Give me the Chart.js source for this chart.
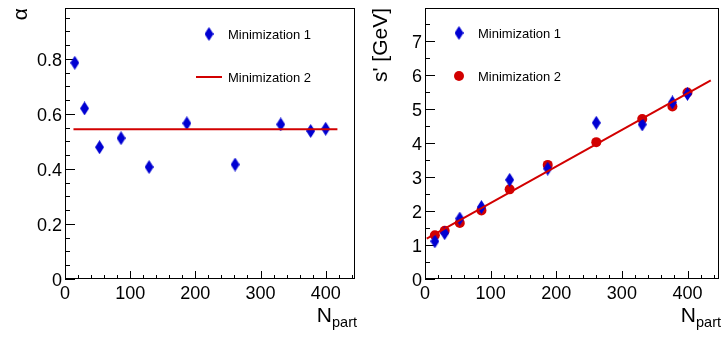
<!DOCTYPE html>
<html>
<head>
<meta charset="utf-8">
<script src="https://cdn.jsdelivr.net/npm/chart.js@4.4.1/dist/chart.umd.min.js"></script>
<style>
  body { margin: 0; background: #fff; }
  #wrap { position: relative; width: 727px; height: 340px; }
  #alphaChart { position: absolute; left: 0; top: 0; }
  #sChart { position: absolute; left: 363px; top: 0; }
</style>
</head>
<body>
<div id="wrap">
  <canvas id="alphaChart" width="363" height="340"></canvas>
  <canvas id="sChart" width="364" height="340"></canvas>
</div>
<script>
const FONT = '"Liberation Sans", Arial, Helvetica, sans-serif';

// --- Data ---
const nPart = [15, 30, 53, 86, 129, 187, 261, 331, 377, 400];

// alpha, Minimization 1
const alphaMin1 = [0.786, 0.620, 0.479, 0.512, 0.407, 0.566, 0.416, 0.562, 0.538, 0.546];
// alpha, Minimization 2 (constant fit line)
const alphaMin2X = [13, 418];
const alphaMin2Y = [0.544, 0.544];

// s' [GeV]
const sMin1 = [1.11, 1.35, 1.78, 2.12, 2.92, 3.25, 4.60, 4.55, 5.20, 5.45];
const sMin2 = [1.29, 1.42, 1.65, 2.02, 2.64, 3.36, 4.03, 4.71, 5.08, 5.49];
const sLineX = [2.6, 435.5];
const sLineY = [1.19, 5.85];

const BLUE = '#0000d2';
const RED = '#d20000';

// tall diamond marker like ROOT's style 33
function makeDiamond(w, h, color) {
    const c = document.createElement('canvas');
    c.width = w; c.height = h;
    const g = c.getContext('2d');
    g.fillStyle = color;
    g.beginPath();
    g.moveTo(w / 2, 0);
    g.lineTo(w, h / 2);
    g.lineTo(w / 2, h);
    g.lineTo(0, h / 2);
    g.closePath();
    g.fill();
    return c;
}
const diamond = makeDiamond(9, 14, BLUE);

function toPoints(xs, ys) {
    return xs.map((x, i) => ({ x: x, y: ys[i] }));
}

// --- ROOT-like frame, inward ticks, axis title with subscript, legend ---
const rootFrame = {
    id: 'rootFrame',
    beforeDatasetsDraw(chart, args, opts) {
        const { ctx, chartArea: a } = chart;
        const xs = chart.scales.x, ys = chart.scales.y;
        ctx.save();
        ctx.strokeStyle = '#000';
        ctx.lineWidth = 1;
        ctx.strokeRect(a.left + 0.5, a.top + 0.5, a.right - a.left - 1, a.bottom - a.top - 1);
        ctx.beginPath();
        for (let v = 0; v <= xs.max + 1e-9; v += opts.xMinor) {
            const px = Math.round(xs.getPixelForValue(v)) + 0.5;
            const major = Math.abs(v / opts.xMajor - Math.round(v / opts.xMajor)) < 1e-6;
            ctx.moveTo(px, a.bottom);
            ctx.lineTo(px, a.bottom - (major ? 8 : 4));
        }
        for (let v = 0; v <= ys.max + 1e-9; v += opts.yMinor) {
            const py = Math.round(ys.getPixelForValue(v)) + 0.5;
            const major = Math.abs(v / opts.yMajor - Math.round(v / opts.yMajor)) < 1e-6;
            ctx.moveTo(a.left, py);
            ctx.lineTo(a.left + (major ? 10 : 5), py);
        }
        ctx.stroke();
        ctx.restore();
    },
    afterDraw(chart, args, opts) {
        const { ctx, chartArea: a } = chart;
        ctx.save();
        ctx.fillStyle = '#000';
        ctx.textBaseline = 'alphabetic';
        // x title: N_part
        ctx.font = '14.5px ' + FONT;
        const subW = ctx.measureText('part').width;
        const subX = a.right + 2 - subW;
        ctx.fillText('part', subX, 327);
        ctx.font = '21px ' + FONT;
        const nW = ctx.measureText('N').width;
        ctx.fillText('N', subX - nW, 322);

        // legend
        ctx.font = '13px ' + FONT;
        ctx.textBaseline = 'middle';
        opts.legend.forEach(item => {
            if (item.kind === 'diamond') {
                ctx.drawImage(diamond, item.mx - 4.5, item.y - 7);
            } else if (item.kind === 'line') {
                ctx.strokeStyle = RED;
                ctx.lineWidth = 2;
                ctx.beginPath();
                ctx.moveTo(item.mx - 13, item.y);
                ctx.lineTo(item.mx + 13, item.y);
                ctx.stroke();
            } else if (item.kind === 'circle') {
                ctx.fillStyle = RED;
                ctx.beginPath();
                ctx.arc(item.mx, item.y, 5, 0, Math.PI * 2);
                ctx.fill();
            }
            ctx.fillStyle = '#000';
            ctx.fillText(item.text, item.tx, item.y + 1);
        });
        ctx.restore();
    }
};

function noEdgePadding(scale) {
    scale.paddingTop = 0;
    scale.paddingBottom = 0;
    scale.paddingLeft = 0;
    scale.paddingRight = 0;
}

function makeOptions(cfg) {
    return {
        responsive: false,
        animation: false,
        layout: { padding: { top: 5, right: cfg.padRight, left: 0, bottom: 0 } },
        plugins: {
            legend: { display: false },
            tooltip: { enabled: false },
            rootFrame: cfg.frame
        },
        scales: {
            x: {
                type: 'linear',
                min: 0,
                max: cfg.xMax,
                border: { display: false },
                grid: { display: false, drawTicks: false },
                ticks: {
                    stepSize: 100,
                    includeBounds: false,
                    padding: 4,
                    color: '#000',
                    maxRotation: 0,
                    font: { family: FONT, size: 18 }
                },
                afterFit: scale => { scale.height = 61; noEdgePadding(scale); }
            },
            y: {
                type: 'linear',
                min: 0,
                max: cfg.yMax,
                border: { display: false },
                grid: { display: false, drawTicks: false },
                title: {
                    display: true,
                    text: cfg.yTitle,
                    align: 'end',
                    color: '#000',
                    padding: { top: cfg.titlePad, bottom: 0 },
                    font: { family: FONT, size: 21 }
                },
                ticks: {
                    stepSize: cfg.yStep,
                    includeBounds: false,
                    padding: 3,
                    labelOffset: 2,
                    color: '#000',
                    font: { family: FONT, size: 18 },
                    callback: v => String(Math.round(v * 10) / 10)
                },
                afterFit: scale => { scale.width = cfg.yWidth; noEdgePadding(scale); }
            }
        }
    };
}

// --- Left panel: alpha ---
new Chart(document.getElementById('alphaChart'), {
    type: 'scatter',
    data: {
        datasets: [
            {
                label: 'Minimization 2',
                type: 'line',
                data: toPoints(alphaMin2X, alphaMin2Y),
                borderColor: RED,
                borderWidth: 2,
                pointRadius: 0,
                fill: false
            },
            {
                label: 'Minimization 1',
                data: toPoints(nPart, alphaMin1),
                pointStyle: diamond,
                pointRadius: 7
            }
        ]
    },
    options: makeOptions({
        xMax: 445, yMax: 0.985, yStep: 0.2, yTitle: 'α', titlePad: 9,
        yWidth: 65, padRight: 5,
        frame: {
            xMajor: 100, xMinor: 20, yMajor: 0.2, yMinor: 0.05,
            legend: [
                { kind: 'diamond', mx: 209, tx: 228, y: 34, text: 'Minimization 1' },
                { kind: 'line', mx: 209, tx: 228, y: 77, text: 'Minimization 2' }
            ]
        }
    }),
    plugins: [rootFrame]
});

// --- Right panel: s' ---
new Chart(document.getElementById('sChart'), {
    type: 'scatter',
    data: {
        datasets: [
            {
                label: 'fit',
                type: 'line',
                data: toPoints(sLineX, sLineY),
                borderColor: RED,
                borderWidth: 2,
                pointRadius: 0,
                fill: false
            },
            {
                label: 'Minimization 1',
                data: toPoints(nPart, sMin1),
                pointStyle: diamond,
                pointRadius: 7
            },
            {
                label: 'Minimization 2',
                data: toPoints(nPart, sMin2),
                pointStyle: 'circle',
                pointRadius: 5,
                backgroundColor: RED,
                borderColor: RED,
                borderWidth: 0
            }
        ]
    },
    options: makeOptions({
        xMax: 448, yMax: 7.98, yStep: 1, yTitle: "s' [GeV]", titlePad: 6,
        yWidth: 62, padRight: 7,
        frame: {
            xMajor: 100, xMinor: 20, yMajor: 1, yMinor: 0.5,
            legend: [
                { kind: 'diamond', mx: 96, tx: 115, y: 33, text: 'Minimization 1' },
                { kind: 'circle', mx: 96, tx: 115, y: 76, text: 'Minimization 2' }
            ]
        }
    }),
    plugins: [rootFrame]
});
</script>
</body>
</html>
